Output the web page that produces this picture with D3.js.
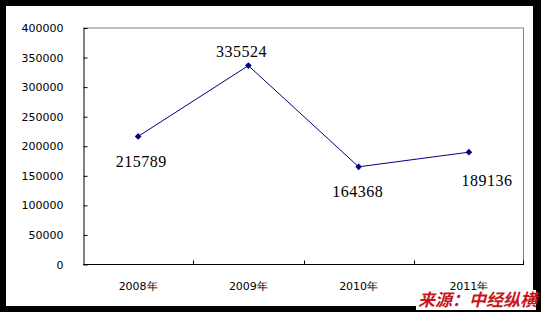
<!DOCTYPE html>
<html>
<head>
<meta charset="utf-8">
<script src="https://cdn.jsdelivr.net/npm/d3@7"></script>
<style>
body{margin:0;background:#000;}
</style>
</head>
<body>
<script>
//begin data
var years=["2008年","2009年","2010年","2011年"];
var values=[215789,335524,164368,189136];
var yTicks=[0,50000,100000,150000,200000,250000,300000,350000,400000];
var labelDx=[3,-7,-1,18];//label offset from point
var labelDy=[31,-9,30,34];
var source="来源：中经纵横";
//end data

var W=541,H=312;
var pLeft=83,pRight=524,pTop=27.5,pBottom=264;

var svg=d3.select("body").append("svg")
    .attr("width",W)
    .attr("height",H)
    .style("display","block");

//frame
svg.append("rect")
    .attr("width",W).attr("height",H)
    .attr("fill","#000");
svg.append("rect")
    .attr("x",6).attr("y",6)
    .attr("width",527).attr("height",300)
    .attr("fill","#fff");

var x=d3.scaleBand().domain(years).range([pLeft,pRight]);
var y=d3.scaleLinear().domain([0,400000]).range([pBottom,pTop]);

//plot box top & right
svg.append("path")
    .attr("d","M"+pLeft+","+(pTop+0.5)+"H"+(pRight-0.5)+"V"+pBottom)
    .attr("fill","none")
    .attr("stroke","#808080")
    .attr("stroke-width",1);

//y axis
var yAxis=d3.axisLeft(y).tickValues(yTicks).tickSize(-4).tickSizeOuter(0).tickFormat(d3.format("d"));
var gy=svg.append("g")
    .attr("transform","translate("+(pLeft+0.5)+",0.5)")
    .call(yAxis);
gy.select(".domain").attr("stroke","#000");
gy.selectAll(".tick line").attr("stroke","#000");
gy.selectAll("text")
    .attr("x",-20)
    .style("font-family","DejaVu Sans")
    .style("font-size","11px")
    .attr("fill","#000");

//x axis
var gx=svg.append("g")
    .attr("transform","translate(0,"+(pBottom+0.5)+")");
gx.append("line")
    .attr("x1",pLeft).attr("x2",pRight)
    .attr("stroke","#000");
gx.selectAll(".xt")
    .data(years.slice(1))
    .enter().append("line")
    .attr("x1",function(d){return Math.round(x(d))+0.5;})
    .attr("x2",function(d){return Math.round(x(d))+0.5;})
    .attr("y1",0).attr("y2",-4)
    .attr("stroke","#000");
gx.append("line")
    .attr("x1",pRight-0.5).attr("x2",pRight-0.5)
    .attr("y1",0).attr("y2",-4)
    .attr("stroke","#000");
gx.selectAll(".xl")
    .data(years)
    .enter().append("text")
    .attr("x",function(d){return x(d)+x.bandwidth()/2;})
    .attr("y",25)
    .attr("text-anchor","middle")
    .style("font-family","DejaVu Sans")
    .style("font-size","11px")
    .attr("fill","#000")
    .text(function(d){return d;});

//line
var line=d3.line()
    .x(function(d,i){return x(years[i])+x.bandwidth()/2;})
    .y(function(d){return y(d);});
svg.append("path")
    .datum(values)
    .attr("d",line)
    .attr("fill","none")
    .attr("stroke","#000080")
    .attr("stroke-width",1);

svg.selectAll(".pt")
    .data(values)
    .enter().append("path")
    .attr("d",d3.symbol().type(d3.symbolSquare).size(22))
    .attr("transform",function(d,i){return "translate("+(x(years[i])+x.bandwidth()/2)+","+y(d)+") rotate(45)";})
    .attr("fill","#000080");

//labels
svg.selectAll(".lb")
    .data(values)
    .enter().append("text")
    .attr("x",function(d,i){return x(years[i])+x.bandwidth()/2+labelDx[i];})
    .attr("y",function(d,i){return y(d)+labelDy[i];})
    .attr("text-anchor","middle")
    .style("font-family","Liberation Serif")
    .style("font-size","16px")
    .style("letter-spacing","0.5px")
    .attr("fill","#000")
    .text(function(d){return d;});

//source
svg.append("rect")
    .attr("x",416).attr("y",290)
    .attr("width",120).attr("height",20)
    .attr("fill","#fff");
svg.append("text")
    .attr("x",418)
    .attr("y",306)
    .style("font-family","Noto Sans CJK SC")
    .style("font-size","17px")
    .style("font-weight","bold")
    .style("font-style","italic")
    .attr("fill","#c8161d")
    .text(source);
</script>
</body>
</html>
